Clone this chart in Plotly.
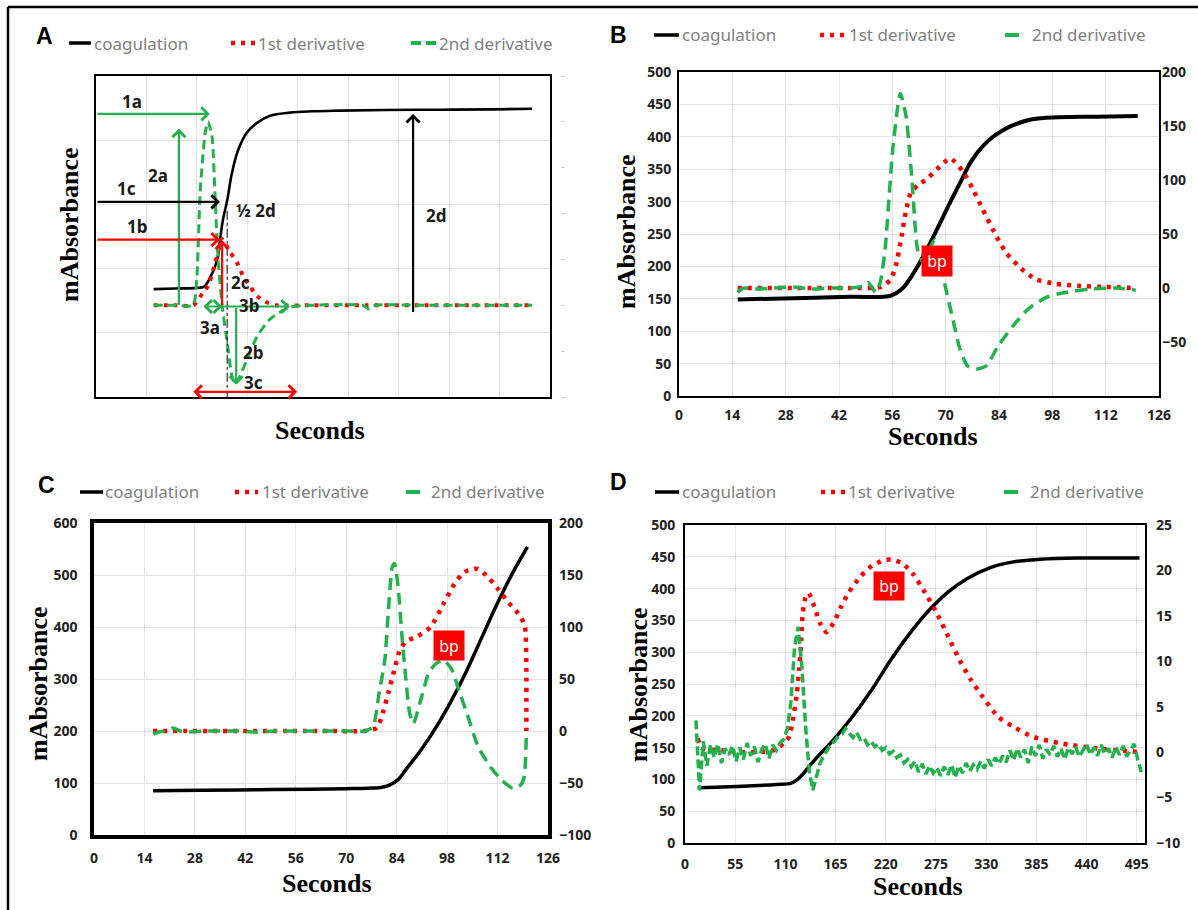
import plotly.graph_objects as go

W, H = 1198, 910

# ---------------- data ----------------
# Panel A (schematic)
a_coag_x = [16, 22, 28, 30, 31.6, 33.6, 34.4, 35.2, 36.4, 37.7, 39.4, 41.9, 44.7, 48.3, 53.8, 60, 67.7, 80, 95.5, 110, 121]
a_coag_y = [168, 169, 170, 172, 185, 213, 244, 275, 306, 348, 384, 412, 427, 438, 443, 445, 446, 447, 447.5, 448, 449]
a_d1_x = [16, 22, 27, 29.7, 31.1, 33, 35, 37.2, 39.1, 40.8, 42.7, 44.7, 47.5, 50.2, 60, 75, 90, 105, 121]
a_d1_y = [0, 0, 0, 14, 21, 45, 72, 58, 47, 32, 21, 10, 3, 0, 0, 0, 0, 0, 0]
a_d2_x = [16, 22, 26.9, 28, 28.9, 30.3, 31.1, 32.2, 33, 33.9, 35, 36.4, 37.7, 38.6, 40, 41.9, 44.7, 48.3, 53.8, 60, 74, 75.8, 77.5, 90, 105, 121]
a_d2_y = [0, 0, 0, 32, 123, 188, 200, 184, 123, 50, 0, -40, -77, -86, -77, -59, -34, -15, -2, 0, 0, -4, 0, 0, 0, 0]

# Panel B
b_coag_x = [15.4, 30, 45, 55.6, 58.5, 61.7, 64.6, 67.7, 70.6, 73.8, 76.7, 79.8, 82.2, 84.7, 87.7, 92.7, 99.7, 109.8, 120.4]
b_coag_y = [149, 151, 153, 155, 165, 191, 221, 257, 292, 329, 362, 386, 399, 409, 418, 427, 430, 431, 432]
b_d1_x = [15.4, 30, 45, 53, 55.6, 57, 58.3, 59.5, 60.8, 62.6, 65.1, 67.7, 71.2, 74.7, 77.2, 79.7, 82.7, 85.8, 89.8, 93.7, 98.7, 104.7, 112, 119.9]
b_d1_y = [0, 0, 0, 1, 8, 22, 45, 70, 88, 95, 101, 110, 120, 107, 91, 73, 52, 33, 18, 8, 4, 2, 1, 0]
b_d2_x = [15.4, 17, 20, 25, 30, 35, 40, 45, 48.5, 49.6, 50.6, 51.6, 52.8, 54.1, 56.1, 58.1, 59.6, 61.2, 62.6, 64, 65.5, 67.2, 68.5, 69.7, 71.7, 73.7, 75.7, 78.2, 80.7, 83.7, 87.7, 91.8, 96.8, 101.8, 107.9, 114.9, 119.9]
b_d2_y = [-4, 0, -1, 0, 1, -1, 0, 0, 2, 5, 1, -4, 5, 36, 128, 180, 159, 98, 36, 24, 35, 45, 30, 5, -26, -56, -72, -75, -72, -54, -35, -19, -8, -4, -1, 0, -2]

# Panel C
c_coag_x = [16.4, 30, 45, 60, 70, 76, 79.5, 82, 84.3, 86.8, 90.7, 95, 99.3, 103.5, 107.7, 112, 116.2, 120.3]
c_coag_y = [85, 86, 87, 88, 89, 90, 91.5, 96, 106, 128, 163, 208, 260, 317, 381, 446, 504, 554]
c_d1_x = [16.4, 25, 35, 45, 55, 65, 75, 78.5, 80.1, 81.7, 83.3, 84.9, 86.5, 89.7, 93.4, 97.1, 100.3, 102.9, 106.1, 108.8, 112, 115.2, 118.4, 119.6, 120, 120, 120]
c_d1_y = [0, 0, 0, 0, 0, 0, 0, 3, 17, 37, 58, 78, 86, 91, 100, 123, 143, 153, 156, 150, 137, 123, 110, 100, 60, 20, 0]
c_d2_x = [16.4, 18, 20, 22, 24, 26, 30, 35, 40, 45, 50, 55, 60, 65, 70, 75, 77.4, 79.1, 80.7, 81.7, 82.8, 83.4, 84.4, 85.4, 86.5, 87.6, 88.6, 90.7, 92.9, 95, 97.1, 99.3, 101.3, 103.5, 106.6, 109.9, 113.1, 116.2, 118.4, 119.4, 120]
c_d2_y = [-3, -1, 0, 3, 0, -1, 0, 0, 0, -1, 0, 0, 0, 0, 0, 0, 4, 36, 68, 116, 158, 161, 139, 94, 52, 17, 7, 30, 56, 65, 68, 59, 39, 17, -15, -34, -47, -55, -52, -44, -2]

# Panel D
d_coag_x = [13.8, 40, 74.5, 100, 116.6, 124.9, 141.7, 162.6, 183.6, 204.6, 225.6, 246.5, 267.4, 288.5, 309.4, 334.6, 359.7, 389, 431, 470, 498]
d_coag_y = [87, 88, 90, 92, 94, 102, 130, 162, 199, 241, 288, 330, 366, 395, 416, 433, 442, 446, 448, 448, 448]
d_d1_x = [13.8, 18, 25, 40, 60, 80, 100, 108, 114, 118, 122.6, 124.9, 127, 129, 132, 135.4, 141.7, 147.9, 155, 162.6, 171, 179.5, 192, 204.6, 217.2, 225.6, 238, 250.7, 263.3, 275.9, 288.5, 301, 313.6, 326.2, 343, 359.7, 380.8, 409.8, 452, 498]
d_d1_y = [1.5, 0.5, 0.3, 0.2, 0, 0, 0.3, 1, 1.7, 3.5, 6.5, 9, 11.6, 15.3, 17, 17.5, 16, 14.2, 13.2, 14.2, 16, 17.6, 19.3, 20.5, 21.1, 21.2, 20.8, 19.5, 17.5, 15.3, 12.7, 10.1, 7.9, 6.1, 3.9, 2.8, 1.7, 1, 0.4, 0]
d_d2_x = list(range(12, 501, 4))
d_d2_y = [3.5, -4.2, 1.2, -1.5, 0.8, -0.6, 0.9, -1.2, 0.4, -0.3,
          0.7, -1.0, 0.5, -0.8, 1.0, -0.4, 0.6, -1.1, 0.3, 0.9,
          -0.7, 0.8, 0.2, 1.0, 1.4, 2.5, 5.5, 11.5, 13.8, 9.5,
          3.0, -2.0, -4.2, -2.6, -1.2, -0.4, 0.3, 0.9, 1.2, 1.8,
          2.0, 2.6, 2.1, 1.6, 2.2, 1.4, 1.6, 0.8, 1.2, 0.6,
          0.9, 0.2, 0.5, -0.2, 0.1, -0.6, -0.3, -1.2, -0.8, -1.6,
          -1.0, -2.2, -1.3, -2.4, -1.5, -2.3, -1.7, -2.6, -1.6, -2.5,
          -1.4, -2.8, -1.5, -2.3, -1.2, -2.1, -1.4, -1.9, -1.0, -1.8,
          -0.8, -1.5, -0.6, -1.3, -0.4, -1.1, 0.2, -0.9, 0.4, -0.6,
          0.3, -1.2, 0.6, -0.4, 0.8, -0.7, 0.3, -0.3, 0.7, -0.5,
          0.4, -0.8, 0.5, -0.2, 0.6, -0.5, 0.2, 0.9, -0.3, 0.5,
          -0.4, 0.8, -0.2, 0.4, -0.6, 0.6, -0.3, 0.7, -0.5, 0.2,
          0.9, -0.8, -2.2]
n = min(len(d_d2_x), len(d_d2_y))
d_d2_x, d_d2_y = d_d2_x[:n], d_d2_y[:n]

legend_names = ["coagulation", "1st derivative", "2nd derivative"]
panel_letters = ["A", "B", "C", "D"]

# bp label positions (x, right-axis value)
bp_b = (67.7, 25)
bp_c = (98.4, 82)
bp_d = (224, 18.3)

# ---------------- style ----------------
BLACK = "#000000"
RED = "#ff0000"
GREEN = "#22b14c"
GRID = "#e3e3e3"
SANS = "Noto Sans, Open Sans, sans-serif"
SERIF = "Liberation Serif, Times New Roman, serif"

def fx(p):
    return p / W

def fy(p):
    return 1 - p / H

fig = go.Figure()

def add_panel(xa, yl, yr, cx, cy, d1x, d1y, d2x, d2y, cw=3.5, dotw=4.5, dw=3.5, dash2="12px,7px", d2shape="spline"):
    fig.add_trace(go.Scatter(x=cx, y=cy, xaxis=xa, yaxis=yl, mode="lines",
                             line=dict(color=BLACK, width=cw, shape="spline", smoothing=1.0),
                             showlegend=False, hoverinfo="skip"))
    fig.add_trace(go.Scatter(x=d1x, y=d1y, xaxis=xa, yaxis=yr, mode="lines",
                             line=dict(color=RED, width=dotw, dash="4px,6px", shape="spline", smoothing=0.6),
                             showlegend=False, hoverinfo="skip"))
    fig.add_trace(go.Scatter(x=d2x, y=d2y, xaxis=xa, yaxis=yr, mode="lines",
                             line=dict(color=GREEN, width=dw, dash=dash2, shape=d2shape, smoothing=0.6),
                             showlegend=False, hoverinfo="skip"))

add_panel("x", "y", "y2", a_coag_x, a_coag_y, a_d1_x, a_d1_y, a_d2_x, a_d2_y, cw=2.6, dotw=4, dw=3, dash2="9px,5px")
add_panel("x2", "y3", "y4", b_coag_x, b_coag_y, b_d1_x, b_d1_y, b_d2_x, b_d2_y, cw=4)
add_panel("x3", "y5", "y6", c_coag_x, c_coag_y, c_d1_x, c_d1_y, c_d2_x, c_d2_y, cw=3.5)
add_panel("x4", "y7", "y8", d_coag_x, d_coag_y, d_d1_x, d_d1_y, d_d2_x, d_d2_y, cw=3.5, dash2="9px,4px", d2shape="linear")

tickfont = dict(family=SANS, size=14, color="#222222", weight="bold")

def xaxis(dom, anchor, rng, dtick, labels=True, lw=2, standoff=4):
    return dict(domain=[fx(dom[0]), fx(dom[1])], anchor=anchor, range=rng, dtick=dtick, tick0=0,
                showgrid=True, gridcolor=GRID, gridwidth=1, zeroline=False, automargin=False,
                showline=True, linecolor=BLACK, linewidth=lw, mirror=True,
                showticklabels=labels, tickfont=tickfont, ticks="", ticklabelstandoff=standoff)

def yaxis_left(dom, anchor, rng, dtick, labels=True, lw=2, standoff=3):
    return dict(domain=[fy(dom[1]), fy(dom[0])], anchor=anchor, range=rng, dtick=dtick, tick0=0,
                showgrid=True, gridcolor=GRID, gridwidth=1, zeroline=False, automargin=False,
                showline=True, linecolor=BLACK, linewidth=lw, mirror=True,
                showticklabels=labels, tickfont=tickfont, ticks="", ticklabelstandoff=standoff)

def yaxis_right(over, anchor, rng, tickvals, standoff=3):
    return dict(overlaying=over, anchor=anchor, side="right", range=rng, tickvals=tickvals,
                showgrid=False, zeroline=False, showline=False, ticks="", automargin=False,
                tickfont=tickfont, ticklabelstandoff=standoff)

A_dom = ((96, 550), (76, 397))
B_dom = ((679, 1159), (72, 396))
C_dom = ((94, 548), (523, 835))
D_dom = ((685, 1145), (525, 843))

fig.update_layout(
    template="none",
    xaxis=xaxis(A_dom[0], "y", [0, 126], 14, labels=False),
    yaxis=yaxis_left(A_dom[1], "x", [0, 500], 100, labels=False),
    yaxis2=dict(overlaying="y", anchor="free", position=fx(560), side="right", range=[-100, 250],
                tickvals=[-100, -50, 0, 50, 100, 150, 200, 250], showticklabels=False,
                ticks="outside", ticklen=4, tickcolor="#d0d0d0", tickwidth=1, automargin=False,
                showgrid=False, zeroline=False, showline=False),
    xaxis2=xaxis(B_dom[0], "y3", [0, 126], 14, standoff=5),
    yaxis3=yaxis_left(B_dom[1], "x2", [0, 500], 50, standoff=3),
    yaxis4=yaxis_right("y3", "x2", [-100, 200], [-50, 0, 50, 100, 150, 200], standoff=2),
    xaxis3=xaxis(C_dom[0], "y5", [0, 126], 14, lw=3.5, standoff=7),
    yaxis5=yaxis_left(C_dom[1], "x3", [0, 600], 100, lw=3.5, standoff=10),
    yaxis6=yaxis_right("y5", "x3", [-100, 200], [-100, -50, 0, 50, 100, 150, 200], standoff=10),
    xaxis4=xaxis(D_dom[0], "y7", [0, 504], 55, standoff=7),
    yaxis7=yaxis_left(D_dom[1], "x4", [0, 500], 50, standoff=5),
    yaxis8=yaxis_right("y7", "x4", [-10, 25], [-10, -5, 0, 5, 10, 15, 20, 25], standoff=10),
)

annotations = []
shapes = []

# outer frame (top and left edges)
shapes.append(dict(type="line", xref="paper", yref="paper", x0=fx(8), y0=fy(7), x1=1, y1=fy(7),
                   line=dict(color=BLACK, width=2.5)))
shapes.append(dict(type="line", xref="paper", yref="paper", x0=fx(8), y0=fy(7), x1=fx(8), y1=0,
                   line=dict(color=BLACK, width=2.5)))

# legends
legend_specs = [
    dict(y=43, black=(69, 91), red=(231, 255), green=(411, 436), tx=(92, 256, 437), gdash="10px,5px"),
    dict(y=35, black=(654, 679), red=(820, 845), green=(1005, 1019), tx=(680, 847, 1030), gdash="solid"),
    dict(y=492, black=(80, 103), red=(235, 258), green=(406, 420), tx=(103, 260, 429), gdash="solid"),
    dict(y=492, black=(655, 679), red=(821, 845), green=(1004, 1018), tx=(680, 846, 1028), gdash="solid"),
]
for spec in legend_specs:
    yy = fy(spec["y"])
    shapes.append(dict(type="line", xref="paper", yref="paper", x0=fx(spec["black"][0]), x1=fx(spec["black"][1]),
                       y0=yy, y1=yy, line=dict(color=BLACK, width=3.5)))
    shapes.append(dict(type="line", xref="paper", yref="paper", x0=fx(spec["red"][0]), x1=fx(spec["red"][1]),
                       y0=yy, y1=yy, line=dict(color=RED, width=4.5, dash="4px,6px")))
    shapes.append(dict(type="line", xref="paper", yref="paper", x0=fx(spec["green"][0]), x1=fx(spec["green"][1]),
                       y0=yy, y1=yy, line=dict(color=GREEN, width=4, dash=spec["gdash"])))
    for name, tx in zip(legend_names, spec["tx"]):
        annotations.append(dict(xref="paper", yref="paper", x=fx(tx), y=yy, text=name, showarrow=False,
                                xanchor="left", yanchor="middle",
                                font=dict(family=SANS, size=17, color="#808080")))

# panel letters
for letter, (px_, py_) in zip(panel_letters, [(44, 36), (618, 35), (46, 485), (618, 482)]):
    annotations.append(dict(xref="paper", yref="paper", x=fx(px_), y=fy(py_), text=letter, showarrow=False,
                            xanchor="center", yanchor="middle",
                            font=dict(family="Liberation Sans, Arial, sans-serif", size=23, color=BLACK, weight="bold")))

# axis titles
for (px_, py_) in [(69, 225), (627, 232), (38, 684), (638, 685)]:
    annotations.append(dict(xref="paper", yref="paper", x=fx(px_), y=fy(py_), text="mAbsorbance", textangle=-90,
                            showarrow=False, xanchor="center", yanchor="middle",
                            font=dict(family=SERIF, size=26, color=BLACK, weight="bold")))
for (px_, py_) in [(320, 430), (933, 436), (327, 883), (918, 886)]:
    annotations.append(dict(xref="paper", yref="paper", x=fx(px_), y=fy(py_), text="Seconds",
                            showarrow=False, xanchor="center", yanchor="middle",
                            font=dict(family=SERIF, size=26, color=BLACK, weight="bold")))

# bp boxes
for (bx, by), xr, yr, hh in [(bp_b, "x2", "y4", 30), (bp_c, "x3", "y6", 29), (bp_d, "x4", "y8", 28)]:
    annotations.append(dict(xref=xr, yref=yr, x=bx, y=by, text="bp", showarrow=False,
                            bgcolor=RED, width=30, height=hh, borderpad=0, align="center", valign="middle",
                            font=dict(family=SANS, size=16, color="white")))

# panel A schematic arrows: (x_head, y_head, x_tail, y_tail, color, double-ended)
a_arrows = [
    (31.6, 441, 0, 441, GREEN, False),   # 1a
    (23.0, 418, 23.0, 141, GREEN, False),  # 2a
    (34.4, 304, 0, 304, BLACK, False),   # 1c
    (34.4, 245, 0, 245, RED, False),     # 1b
    (35.0, 244, 35.0, 141, RED, False),  # 2c
    (53.8, 141, 35.0, 141, GREEN, False),  # 3b
    (35.0, 141, 29.4, 141, GREEN, True),   # 3a
    (38.9, 19, 38.9, 141, GREEN, False),   # 2b
    (55.8, 8, 26.6, 8, RED, True),         # 3c
    (88.0, 441, 88.0, 130, BLACK, False),  # 2d
]
for xh, yh, xt, yt, col, dbl in a_arrows:
    ann = dict(xref="x", yref="y", axref="x", ayref="y", x=xh, y=yh, ax=xt, ay=yt, text="",
               showarrow=True, arrowhead=4, arrowsize=1.15, arrowwidth=2.2, arrowcolor=col, standoff=0)
    if dbl:
        ann.update(arrowside="end+start", startarrowhead=4, startarrowsize=1.15, startstandoff=0)
    annotations.append(ann)

a_labels = [("1a", 10, 461), ("2a", 17.2, 345), ("1c", 8.6, 325), ("½ 2d", 44.5, 290), ("1b", 11.4, 266),
            ("2c", 40, 179), ("3b", 42.5, 143), ("3a", 31.6, 109), ("2b", 43.6, 70), ("3c", 43.8, 22),
            ("2d", 94.4, 283)]
for txt, lx, ly in a_labels:
    annotations.append(dict(xref="x", yref="y", x=lx, y=ly, text=txt, showarrow=False,
                            xanchor="center", yanchor="middle",
                            font=dict(family=SANS, size=17, color="#1a1a1a", weight="bold")))

# dash-dot guide line in A
shapes.append(dict(type="line", xref="x", yref="y", x0=36.4, x1=36.4, y0=290, y1=-8,
                   line=dict(color=BLACK, width=1, dash="dashdot")))

fig.update_layout(
    width=W, height=H, margin=dict(l=0, r=0, t=0, b=0, autoexpand=False),
    paper_bgcolor="white", plot_bgcolor="white",
    showlegend=False, annotations=annotations, shapes=shapes,
)

fig.write_html(
    "out.html",
    config={"displayModeBar": False},
    post_script=("document.documentElement.style.margin='0';document.body.style.margin='0';"
                 "document.body.style.overflow='hidden';"
                 "var gd=document.getElementById('{plot_id}');"
                 "gd.style.position='fixed';gd.style.left='0px';gd.style.top='0px';"),
)
